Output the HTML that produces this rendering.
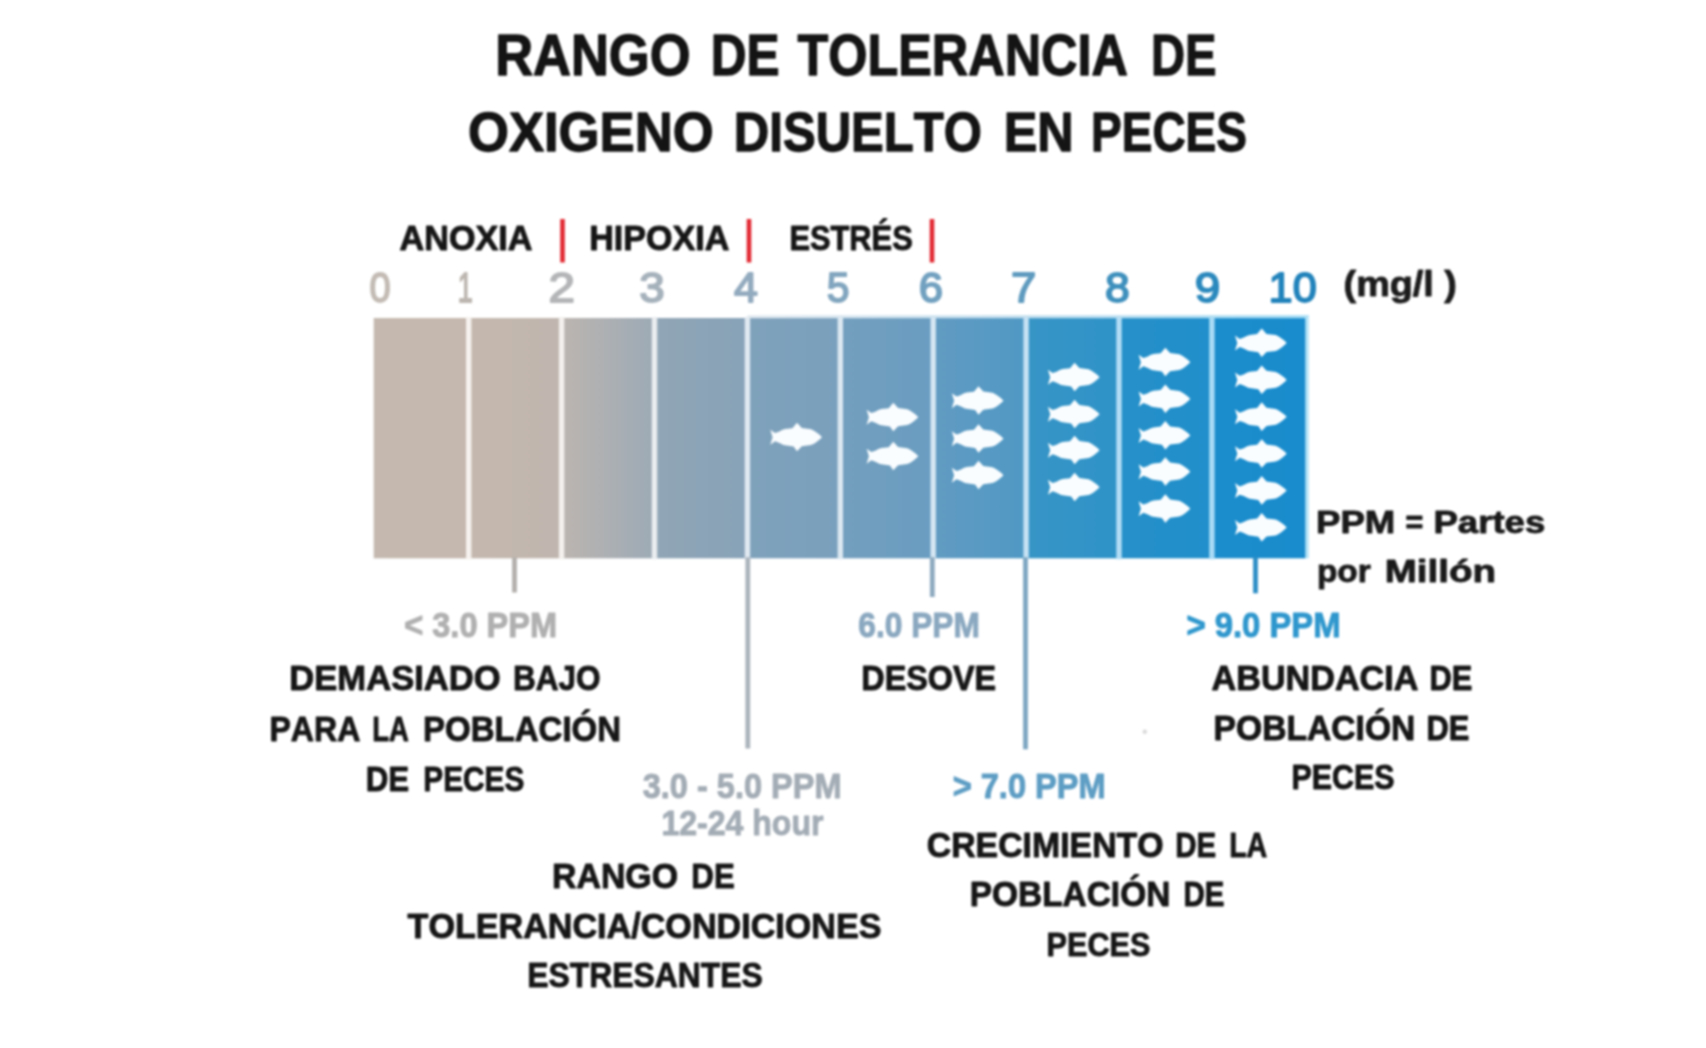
<!DOCTYPE html>
<html lang="es">
<head>
<meta charset="utf-8">
<title>Rango de tolerancia de oxigeno disuelto en peces</title>
<style>
html,body{margin:0;padding:0;background:#fff;}
body{width:1706px;height:1048px;overflow:hidden;}
svg{display:block;filter:blur(1.1px);}
svg text{font-family:"Liberation Sans",sans-serif;font-weight:700;font-kerning:none;}
</style>
</head>
<body>
<svg width="1706" height="1048" viewBox="0 0 1706 1048">
<defs>
<linearGradient id="g0" x1="0" x2="1" y1="0" y2="0"><stop offset="0" stop-color="#c5b9af"/><stop offset="1" stop-color="#c5b8ae"/></linearGradient>
<linearGradient id="g1" x1="0" x2="1" y1="0" y2="0"><stop offset="0" stop-color="#c5b8ae"/><stop offset="1" stop-color="#c0b6af"/></linearGradient>
<linearGradient id="g2" x1="0" x2="1" y1="0" y2="0"><stop offset="0" stop-color="#bcb5b0"/><stop offset="1" stop-color="#9caab6"/></linearGradient>
<linearGradient id="g3" x1="0" x2="1" y1="0" y2="0"><stop offset="0" stop-color="#91a6b6"/><stop offset="1" stop-color="#87a2b8"/></linearGradient>
<linearGradient id="g4" x1="0" x2="1" y1="0" y2="0"><stop offset="0" stop-color="#80a2bb"/><stop offset="1" stop-color="#79a0bd"/></linearGradient>
<linearGradient id="g5" x1="0" x2="1" y1="0" y2="0"><stop offset="0" stop-color="#749fbe"/><stop offset="1" stop-color="#699dc1"/></linearGradient>
<linearGradient id="g6" x1="0" x2="1" y1="0" y2="0"><stop offset="0" stop-color="#629bc2"/><stop offset="1" stop-color="#4f99c5"/></linearGradient>
<linearGradient id="g7" x1="0" x2="1" y1="0" y2="0"><stop offset="0" stop-color="#3895c6"/><stop offset="1" stop-color="#2e93c8"/></linearGradient>
<linearGradient id="g8" x1="0" x2="1" y1="0" y2="0"><stop offset="0" stop-color="#2690c9"/><stop offset="1" stop-color="#208fcb"/></linearGradient>
<linearGradient id="g9" x1="0" x2="1" y1="0" y2="0"><stop offset="0" stop-color="#1c8dcc"/><stop offset="1" stop-color="#198ccd"/></linearGradient>
<linearGradient id="gt" x1="0" x2="1" y1="0" y2="0"><stop offset="0" stop-color="#e3eaf0"/><stop offset="0.5" stop-color="#c4dfef"/><stop offset="1" stop-color="#a4dcf4"/></linearGradient>
<path id="fish" d="M0.3,7 L5,10.4 L9,9 C11,7.8 13,6.8 15,6.4 L22.4,5.6 L27,0 L31.8,5.4 L41,6.6 C45,8.2 49,11.4 52,14.5 C49,17.6 45,20.8 41,22.4 L31.8,23.6 L27,28.6 L23.6,23.8 L15,22.6 C13,22.2 11,21.2 9,20 L5,18.6 L0.3,22 L2.6,14.5 Z"/>
</defs>
<rect width="1706" height="1048" fill="#ffffff"/>
<g id="bar">
<rect x="373.70" y="318.0" width="95.50" height="240.3" fill="url(#g0)"/>
<rect x="468.70" y="318.0" width="93.40" height="240.3" fill="url(#g1)"/>
<rect x="561.60" y="318.0" width="93.40" height="240.3" fill="url(#g2)"/>
<rect x="654.50" y="318.0" width="93.40" height="240.3" fill="url(#g3)"/>
<rect x="747.40" y="318.0" width="93.40" height="240.3" fill="url(#g4)"/>
<rect x="840.30" y="318.0" width="93.40" height="240.3" fill="url(#g5)"/>
<rect x="933.20" y="318.0" width="93.40" height="240.3" fill="url(#g6)"/>
<rect x="1026.10" y="318.0" width="93.40" height="240.3" fill="url(#g7)"/>
<rect x="1119.00" y="318.0" width="93.40" height="240.3" fill="url(#g8)"/>
<rect x="1211.90" y="318.0" width="93.70" height="240.3" fill="url(#g9)"/>
<rect x="466.00" y="317.0" width="5.4" height="242.3" fill="#f6f2ef"/>
<rect x="558.90" y="317.0" width="5.4" height="242.3" fill="#f3f0ee"/>
<rect x="651.80" y="317.0" width="5.4" height="242.3" fill="#eaedf0"/>
<rect x="744.70" y="317.0" width="5.4" height="242.3" fill="#e1e9f0"/>
<rect x="837.60" y="317.0" width="5.4" height="242.3" fill="#dce8f1"/>
<rect x="930.50" y="317.0" width="5.4" height="242.3" fill="#d6e6f2"/>
<rect x="1023.40" y="317.0" width="5.4" height="242.3" fill="#c6e2f4"/>
<rect x="1116.30" y="317.0" width="5.4" height="242.3" fill="#b4ddf5"/>
<rect x="1209.20" y="317.0" width="5.4" height="242.3" fill="#aadbf6"/>
<rect x="747.4" y="315.2" width="561.4" height="3" fill="url(#gt)"/>
<rect x="1305.6" y="315.2" width="3.2" height="243.1" fill="#b4e3f7"/>
</g>
<g id="fishes" fill="#fafdff">
<use href="#fish" x="770.0" y="422.7"/>
<use href="#fish" x="866.3" y="402.7"/>
<use href="#fish" x="866.3" y="441.7"/>
<use href="#fish" x="951.5" y="386.2"/>
<use href="#fish" x="951.5" y="424.2"/>
<use href="#fish" x="951.5" y="460.7"/>
<use href="#fish" x="1047.6" y="362.7"/>
<use href="#fish" x="1047.6" y="399.7"/>
<use href="#fish" x="1047.6" y="435.7"/>
<use href="#fish" x="1047.6" y="472.7"/>
<use href="#fish" x="1138.3" y="347.7"/>
<use href="#fish" x="1138.3" y="384.4"/>
<use href="#fish" x="1138.3" y="421.0"/>
<use href="#fish" x="1138.3" y="457.2"/>
<use href="#fish" x="1138.3" y="494.2"/>
<use href="#fish" x="1234.7" y="328.5"/>
<use href="#fish" x="1234.7" y="365.4"/>
<use href="#fish" x="1234.7" y="402.3"/>
<use href="#fish" x="1234.7" y="439.2"/>
<use href="#fish" x="1234.7" y="476.1"/>
<use href="#fish" x="1234.7" y="513.0"/>
</g>
<g id="lines">
<rect x="512.1" y="557.3" width="4.8" height="35.2" fill="#b3b0ad"/>
<rect x="745.4" y="557.3" width="4.8" height="191.2" fill="#abb4bc"/>
<rect x="929.9" y="557.3" width="4.8" height="39.7" fill="#8eaabf"/>
<rect x="1023.1" y="557.3" width="4.8" height="192.0" fill="#7ea7c2"/>
<rect x="1253.1" y="557.3" width="4.8" height="36.0" fill="#2f8fc6"/>
<rect x="560.2" y="219" width="4.6" height="43.5" fill="#e22a32"/>
<rect x="746.7" y="219" width="4.6" height="43.5" fill="#e22a32"/>
<rect x="929.7" y="219" width="4.6" height="43.5" fill="#e22a32"/>
<circle cx="1144.8" cy="731.7" r="2.2" fill="#d9d9d9"/>
</g>
<g id="labels">
<text y="74.85" font-size="56.98" fill="#141414" stroke="#141414" stroke-width="1.30" stroke-linejoin="round"><tspan x="495.14" textLength="195.42" lengthAdjust="spacingAndGlyphs">RANGO</tspan> <tspan x="710.63" textLength="68.85" lengthAdjust="spacingAndGlyphs">DE</tspan> <tspan x="797.38" textLength="330.60" lengthAdjust="spacingAndGlyphs">TOLERANCIA</tspan> <tspan x="1151.00" textLength="65.50" lengthAdjust="spacingAndGlyphs">DE</tspan></text>
<text y="151.35" font-size="56.25" fill="#141414" stroke="#141414" stroke-width="1.30" stroke-linejoin="round"><tspan x="467.99" textLength="245.57" lengthAdjust="spacingAndGlyphs">OXIGENO</tspan> <tspan x="733.87" textLength="248.04" lengthAdjust="spacingAndGlyphs">DISUELTO</tspan> <tspan x="1003.78" textLength="69.96" lengthAdjust="spacingAndGlyphs">EN</tspan> <tspan x="1091.07" textLength="155.87" lengthAdjust="spacingAndGlyphs">PECES</tspan></text>
<text y="249.85" font-size="34.45" fill="#161616" stroke="#161616" stroke-width="0.90" stroke-linejoin="round"><tspan x="399.60" textLength="132.85" lengthAdjust="spacingAndGlyphs">ANOXIA</tspan></text>
<text y="249.85" font-size="34.45" fill="#161616" stroke="#161616" stroke-width="0.90" stroke-linejoin="round"><tspan x="589.17" textLength="140.28" lengthAdjust="spacingAndGlyphs">HIPOXIA</tspan></text>
<text y="250.15" font-size="34.45" fill="#161616" stroke="#161616" stroke-width="0.90" stroke-linejoin="round"><tspan x="789.39" textLength="123.37" lengthAdjust="spacingAndGlyphs">ESTRÉS</tspan></text>
<text x="369.41" y="301.60" font-size="43.02" textLength="21.17" lengthAdjust="spacingAndGlyphs" fill="#c3bbb4" style="font-weight:400" stroke="#c3bbb4" stroke-width="1.8" stroke-linejoin="round">0</text>
<text x="457.83" y="301.60" font-size="43.02" textLength="15.09" lengthAdjust="spacingAndGlyphs" fill="#bdb6b0" style="font-weight:400" stroke="#bdb6b0" stroke-width="1.8" stroke-linejoin="round">1</text>
<text x="548.50" y="301.60" font-size="43.02" textLength="26.49" lengthAdjust="spacingAndGlyphs" fill="#b3b5b7" style="font-weight:400" stroke="#b3b5b7" stroke-width="1.8" stroke-linejoin="round">2</text>
<text x="639.16" y="301.60" font-size="43.02" textLength="25.45" lengthAdjust="spacingAndGlyphs" fill="#a5b1bb" style="font-weight:400" stroke="#a5b1bb" stroke-width="1.8" stroke-linejoin="round">3</text>
<text x="733.91" y="301.60" font-size="43.02" textLength="23.95" lengthAdjust="spacingAndGlyphs" fill="#93abbf" style="font-weight:400" stroke="#93abbf" stroke-width="1.8" stroke-linejoin="round">4</text>
<text x="826.76" y="301.60" font-size="43.02" textLength="22.76" lengthAdjust="spacingAndGlyphs" fill="#82a6bf" style="font-weight:400" stroke="#82a6bf" stroke-width="1.8" stroke-linejoin="round">5</text>
<text x="918.68" y="301.60" font-size="43.02" textLength="24.35" lengthAdjust="spacingAndGlyphs" fill="#72a1c0" style="font-weight:400" stroke="#72a1c0" stroke-width="1.8" stroke-linejoin="round">6</text>
<text x="1011.07" y="301.60" font-size="43.02" textLength="25.32" lengthAdjust="spacingAndGlyphs" fill="#5f9bbf" style="font-weight:400" stroke="#5f9bbf" stroke-width="1.8" stroke-linejoin="round">7</text>
<text x="1104.96" y="301.60" font-size="43.02" textLength="24.77" lengthAdjust="spacingAndGlyphs" fill="#3f90bd" style="font-weight:400" stroke="#3f90bd" stroke-width="1.8" stroke-linejoin="round">8</text>
<text x="1194.75" y="301.60" font-size="43.02" textLength="25.53" lengthAdjust="spacingAndGlyphs" fill="#2c89bd" style="font-weight:400" stroke="#2c89bd" stroke-width="1.8" stroke-linejoin="round">9</text>
<text x="1268.60" y="301.60" font-size="43.02" textLength="48.19" lengthAdjust="spacingAndGlyphs" fill="#2283bb" style="font-weight:400" stroke="#2283bb" stroke-width="1.8" stroke-linejoin="round">10</text>
<text y="295.85" font-size="35.76" fill="#1c1c1c" stroke="#1c1c1c" stroke-width="0.90" stroke-linejoin="round"><tspan x="1343.57" textLength="113.36" lengthAdjust="spacingAndGlyphs">(mg/l )</tspan></text>
<text y="533.05" font-size="32.12" fill="#1a1a1a" stroke="#1a1a1a" stroke-width="0.90" stroke-linejoin="round"><tspan x="1316.00" textLength="79.30" lengthAdjust="spacingAndGlyphs">PPM</tspan> <tspan x="1405.48" textLength="17.82" lengthAdjust="spacingAndGlyphs">=</tspan> <tspan x="1433.51" textLength="111.74" lengthAdjust="spacingAndGlyphs">Partes</tspan></text>
<text y="581.75" font-size="32.12" fill="#1a1a1a" stroke="#1a1a1a" stroke-width="0.90" stroke-linejoin="round"><tspan x="1316.95" textLength="53.70" lengthAdjust="spacingAndGlyphs">por</tspan> <tspan x="1384.78" textLength="111.16" lengthAdjust="spacingAndGlyphs">Millón</tspan></text>
<text y="636.50" font-size="35.32" fill="#b0b0b0" stroke="#b0b0b0" stroke-width="1.00" stroke-linejoin="round"><tspan x="404.13" textLength="153.05" lengthAdjust="spacingAndGlyphs">&lt; 3.0 PPM</tspan></text>
<text y="636.50" font-size="35.76" fill="#8aa8c0" stroke="#8aa8c0" stroke-width="1.00" stroke-linejoin="round"><tspan x="858.34" textLength="121.58" lengthAdjust="spacingAndGlyphs">6.0 PPM</tspan></text>
<text y="636.50" font-size="35.76" fill="#2f97cd" stroke="#2f97cd" stroke-width="1.00" stroke-linejoin="round"><tspan x="1186.42" textLength="154.07" lengthAdjust="spacingAndGlyphs">&gt; 9.0 PPM</tspan></text>
<text y="797.70" font-size="35.76" fill="#a3acb5" stroke="#a3acb5" stroke-width="1.00" stroke-linejoin="round"><tspan x="642.75" textLength="198.72" lengthAdjust="spacingAndGlyphs">3.0 - 5.0 PPM</tspan></text>
<text y="835.00" font-size="35.76" fill="#a3acb5" stroke="#a3acb5" stroke-width="1.00" stroke-linejoin="round"><tspan x="661.48" textLength="162.00" lengthAdjust="spacingAndGlyphs">12-24 hour</tspan></text>
<text y="798.30" font-size="35.76" fill="#5d9dc4" stroke="#5d9dc4" stroke-width="1.00" stroke-linejoin="round"><tspan x="952.63" textLength="153.05" lengthAdjust="spacingAndGlyphs">&gt; 7.0 PPM</tspan></text>
<text y="690.05" font-size="34.74" fill="#161616" stroke="#161616" stroke-width="0.90" stroke-linejoin="round"><tspan x="289.34" textLength="211.37" lengthAdjust="spacingAndGlyphs">DEMASIADO</tspan> <tspan x="513.04" textLength="87.63" lengthAdjust="spacingAndGlyphs">BAJO</tspan></text>
<text y="740.55" font-size="34.74" fill="#161616" stroke="#161616" stroke-width="0.90" stroke-linejoin="round"><tspan x="269.51" textLength="90.79" lengthAdjust="spacingAndGlyphs">PARA</tspan> <tspan x="372.22" textLength="36.56" lengthAdjust="spacingAndGlyphs">LA</tspan> <tspan x="423.04" textLength="198.13" lengthAdjust="spacingAndGlyphs">POBLACIÓN</tspan></text>
<text y="790.55" font-size="34.74" fill="#161616" stroke="#161616" stroke-width="0.90" stroke-linejoin="round"><tspan x="365.75" textLength="43.52" lengthAdjust="spacingAndGlyphs">DE</tspan> <tspan x="423.26" textLength="101.06" lengthAdjust="spacingAndGlyphs">PECES</tspan></text>
<text y="690.15" font-size="34.16" fill="#161616" stroke="#161616" stroke-width="0.90" stroke-linejoin="round"><tspan x="861.29" textLength="134.83" lengthAdjust="spacingAndGlyphs">DESOVE</tspan></text>
<text y="690.25" font-size="34.74" fill="#161616" stroke="#161616" stroke-width="0.90" stroke-linejoin="round"><tspan x="1211.60" textLength="206.85" lengthAdjust="spacingAndGlyphs">ABUNDACIA</tspan> <tspan x="1429.39" textLength="42.87" lengthAdjust="spacingAndGlyphs">DE</tspan></text>
<text y="739.55" font-size="34.45" fill="#161616" stroke="#161616" stroke-width="0.90" stroke-linejoin="round"><tspan x="1213.60" textLength="201.82" lengthAdjust="spacingAndGlyphs">POBLACIÓN</tspan> <tspan x="1426.39" textLength="42.87" lengthAdjust="spacingAndGlyphs">DE</tspan></text>
<text y="788.55" font-size="34.45" fill="#161616" stroke="#161616" stroke-width="0.90" stroke-linejoin="round"><tspan x="1291.42" textLength="103.12" lengthAdjust="spacingAndGlyphs">PECES</tspan></text>
<text y="887.55" font-size="34.45" fill="#161616" stroke="#161616" stroke-width="0.90" stroke-linejoin="round"><tspan x="552.09" textLength="125.88" lengthAdjust="spacingAndGlyphs">RANGO</tspan> <tspan x="691.36" textLength="43.41" lengthAdjust="spacingAndGlyphs">DE</tspan></text>
<text y="937.55" font-size="34.45" fill="#161616" stroke="#161616" stroke-width="0.90" stroke-linejoin="round"><tspan x="407.57" textLength="473.92" lengthAdjust="spacingAndGlyphs">TOLERANCIA/CONDICIONES</tspan></text>
<text y="987.25" font-size="34.45" fill="#161616" stroke="#161616" stroke-width="0.90" stroke-linejoin="round"><tspan x="527.32" textLength="235.48" lengthAdjust="spacingAndGlyphs">ESTRESANTES</tspan></text>
<text y="856.55" font-size="34.45" fill="#161616" stroke="#161616" stroke-width="0.90" stroke-linejoin="round"><tspan x="926.76" textLength="236.81" lengthAdjust="spacingAndGlyphs">CRECIMIENTO</tspan> <tspan x="1175.18" textLength="40.92" lengthAdjust="spacingAndGlyphs">DE</tspan> <tspan x="1229.13" textLength="38.17" lengthAdjust="spacingAndGlyphs">LA</tspan></text>
<text y="906.15" font-size="34.16" fill="#161616" stroke="#161616" stroke-width="0.90" stroke-linejoin="round"><tspan x="969.71" textLength="200.59" lengthAdjust="spacingAndGlyphs">POBLACIÓN</tspan> <tspan x="1183.38" textLength="40.92" lengthAdjust="spacingAndGlyphs">DE</tspan></text>
<text y="955.85" font-size="33.58" fill="#161616" stroke="#161616" stroke-width="0.90" stroke-linejoin="round"><tspan x="1046.60" textLength="103.85" lengthAdjust="spacingAndGlyphs">PECES</tspan></text>
</g>
</svg>
</body>
</html>
